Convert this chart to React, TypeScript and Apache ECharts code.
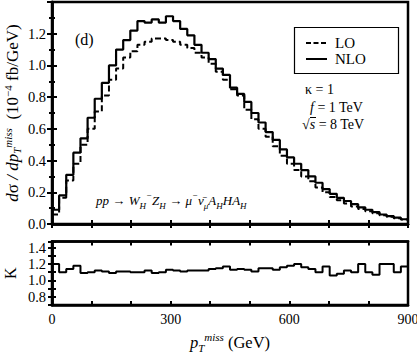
import React, { useEffect, useRef } from "react";
import * as echarts from "echarts";

// bin edges (GeV): 50 bins of 18 GeV from 0 to 900
const binEdges = [
  0, 18, 36, 54, 72, 90, 108, 126, 144, 162, 180, 198, 216, 234, 252, 270, 288, 306, 324, 342,
  360, 378, 396, 414, 432, 450, 468, 486, 504, 522, 540, 558, 576, 594, 612, 630, 648, 666, 684, 702,
  720, 738, 756, 774, 792, 810, 828, 846, 864, 882, 900,
];

const nloValues = [
  0.09, 0.18, 0.31, 0.45, 0.54, 0.67, 0.79, 0.89, 1.0, 1.1,
  1.16, 1.22, 1.28, 1.27, 1.29, 1.27, 1.31, 1.28, 1.23, 1.19,
  1.13, 1.08, 1.04, 0.98, 0.94, 0.86, 0.82, 0.77, 0.7, 0.64,
  0.58, 0.53, 0.47, 0.42, 0.38, 0.34, 0.3, 0.26, 0.22, 0.19,
  0.165, 0.145, 0.125, 0.105, 0.09, 0.075, 0.06, 0.05, 0.04, 0.03,
];

const loValues = [
  0.06, 0.165, 0.275, 0.38, 0.5, 0.6, 0.71, 0.81, 0.91, 0.98,
  1.05, 1.09, 1.13, 1.15, 1.17, 1.17, 1.16, 1.15, 1.13, 1.11,
  1.08, 1.05, 1.01, 0.96, 0.91, 0.85, 0.81, 0.72, 0.66, 0.6,
  0.55, 0.49, 0.43, 0.38, 0.34, 0.3, 0.27, 0.23, 0.2, 0.17,
  0.15, 0.13, 0.11, 0.095, 0.08, 0.068, 0.055, 0.045, 0.036, 0.028,
];

const kValues = [
  1.2, 1.1, 1.14, 1.18, 1.09, 1.1, 1.12, 1.11, 1.09, 1.11,
  1.11, 1.1, 1.1, 1.12, 1.09, 1.1, 1.13, 1.12, 1.11, 1.12,
  1.12, 1.12, 1.14, 1.15, 1.17, 1.13, 1.14, 1.13, 1.11, 1.15,
  1.15, 1.13, 1.16, 1.18, 1.2, 1.16, 1.14, 1.1, 1.17, 1.06,
  1.08, 1.12, 1.1, 1.2, 1.1, 1.07, 1.2, 1.2, 1.1, 1.17,
];

const xTickLabels = [0, 300, 600, 900];
const topYLabels = [0.0, 0.2, 0.4, 0.6, 0.8, 1.0, 1.2];
const bottomYLabels = [0.8, 1.0, 1.2, 1.4];
const legendNames = ["LO", "NLO"];

const FONT = "Liberation Serif";

function stepData(vals: number[]) {
  const d: [number, number][] = vals.map((v, i) => [binEdges[i], v]);
  d.push([binEdges[vals.length], vals[vals.length - 1]]);
  return d;
}

function makeRich(base: number, small: number, lh: number) {
  return {
    i: { fontFamily: FONT, fontSize: base, fontStyle: "italic", color: "#000", lineHeight: lh, verticalAlign: "middle" },
    r: { fontFamily: FONT, fontSize: base, color: "#000", lineHeight: lh, verticalAlign: "middle" },
    sup: { fontFamily: FONT, fontSize: small, fontStyle: "italic", color: "#000", lineHeight: small, verticalAlign: "top" },
    supr: { fontFamily: FONT, fontSize: small, color: "#000", lineHeight: small, verticalAlign: "top" },
    sub: { fontFamily: FONT, fontSize: small, fontStyle: "italic", color: "#000", lineHeight: small, verticalAlign: "bottom" },
  };
}

export default function App() {
  const ref = useRef<HTMLDivElement>(null);
  useEffect(() => {
    if (!ref.current) return;
    const chart = echarts.init(ref.current, undefined, { renderer: "svg" });
    const frame = { show: true, lineStyle: { color: "#000", width: 2.5 } };
    const tickX = { show: true, inside: true, length: 4, lineStyle: { color: "#000", width: 2 } };
    const common = { fontFamily: FONT, color: "#000" };
    const option: any = {
      animation: false,
      backgroundColor: "#fff",
      grid: [
        {
          left: 52, right: 9, top: 2, height: 222, show: true, borderColor: "#000", borderWidth: 2.5,
          backgroundColor: "transparent", containLabel: false, outerBoundsMode: "none",
        },
        {
          left: 52, right: 9, top: 241.5, height: 63.5, show: true, borderColor: "#000", borderWidth: 2.5,
          backgroundColor: "transparent", containLabel: false, outerBoundsMode: "none",
        },
      ],
      xAxis: [
        {
          type: "value", gridIndex: 0, min: 0, max: 900, interval: 100, position: "bottom",
          axisLine: frame, axisTick: tickX, axisLabel: { show: false }, splitLine: { show: false },
        },
        {
          type: "value", gridIndex: 0, min: 0, max: 900, interval: 100, position: "top",
          axisLine: frame, axisTick: tickX, axisLabel: { show: false }, splitLine: { show: false },
        },
        {
          type: "value", gridIndex: 1, min: 0, max: 900, interval: 100, position: "bottom",
          axisLine: frame, axisTick: tickX, splitLine: { show: false },
          axisLabel: {
            ...common, fontSize: 14, margin: 7,
            formatter: (v: number) => (xTickLabels.includes(v) ? String(v) : ""),
          },
          name: "{i|p}{sub|T}{sup|miss}{r| (GeV)}",
          nameLocation: "middle",
          nameGap: 26,
          nameTextStyle: { ...common, fontSize: 16, rich: makeRich(16.5, 11, 22) },
        },
        {
          type: "value", gridIndex: 1, min: 0, max: 900, interval: 100, position: "top",
          axisLine: frame, axisTick: tickX, axisLabel: { show: false }, splitLine: { show: false },
        },
      ],
      yAxis: [
        {
          type: "value", gridIndex: 0, min: 0, max: 1.4, interval: 0.2, position: "left",
          axisLine: frame, axisTick: { ...tickX, length: 5 },
          minorTick: { show: true, splitNumber: 2, length: 3, lineStyle: { color: "#000", width: 2 } },
          splitLine: { show: false },
          axisLabel: {
            ...common, fontSize: 14.5, margin: 6,
            formatter: (v: number) => {
              const m = topYLabels.find((t) => Math.abs(t - v) < 1e-6);
              return m === undefined ? "" : m.toFixed(1);
            },
          },
          name: "{i|d}{r|σ}{i| / dp}{sub|T}{sup|miss}{r|  (10}{supr|−4}{r| fb/GeV)}",
          nameLocation: "middle",
          nameRotate: 90,
          nameGap: 30,
          nameMoveOverlap: false,
          nameTextStyle: { ...common, fontSize: 17, rich: makeRich(17, 11, 20) },
        },
        {
          type: "value", gridIndex: 0, min: 0, max: 1.4, interval: 0.2, position: "right",
          axisLine: frame, axisTick: { ...tickX, length: 5 },
          minorTick: { show: true, splitNumber: 2, length: 3, lineStyle: { color: "#000", width: 2 } },
          splitLine: { show: false }, axisLabel: { show: false },
        },
        {
          type: "value", gridIndex: 1, min: 0.7, max: 1.475, interval: 0.1, position: "left",
          axisLine: frame, axisTick: { ...tickX, length: 4 }, splitLine: { show: false },
          axisLabel: {
            ...common, fontSize: 14.5, margin: 6,
            formatter: (v: number) => {
              const m = bottomYLabels.find((t) => Math.abs(t - v) < 1e-6);
              return m === undefined ? "" : m.toFixed(1);
            },
          },
          name: "K",
          nameLocation: "middle",
          nameRotate: 90,
          nameGap: 34,
          nameMoveOverlap: false,
          nameTextStyle: { ...common, fontSize: 16 },
        },
        {
          type: "value", gridIndex: 1, min: 0.7, max: 1.475, interval: 0.1, position: "right",
          axisLine: frame, axisTick: { ...tickX, length: 4 }, splitLine: { show: false },
          axisLabel: { show: false },
        },
      ],
      series: [
        {
          name: legendNames[0], type: "line", xAxisIndex: 0, yAxisIndex: 0, step: "end",
          data: stepData(loValues), symbol: "none",
          lineStyle: { color: "#000", width: 2, type: [6, 3] },
          itemStyle: { color: "#000" },
        },
        {
          name: legendNames[1], type: "line", xAxisIndex: 0, yAxisIndex: 0, step: "end",
          data: stepData(nloValues), symbol: "none",
          lineStyle: { color: "#000", width: 2.2, type: "solid" },
          itemStyle: { color: "#000" },
        },
        {
          name: "K", type: "line", xAxisIndex: 2, yAxisIndex: 2, step: "end",
          data: stepData(kValues), symbol: "none",
          lineStyle: { color: "#000", width: 2 },
          itemStyle: { color: "#000" },
        },
      ],
      graphic: [
        // legend box
        { type: "rect", shape: { x: 294.5, y: 27.5, width: 104, height: 46 }, style: { fill: "#fff", stroke: "#000", lineWidth: 1.2 } },
        { type: "line", shape: { x1: 306, y1: 43, x2: 327, y2: 43 }, style: { stroke: "#000", lineWidth: 2, lineDash: [5, 2.5] } },
        { type: "line", shape: { x1: 306, y1: 59, x2: 327, y2: 59 }, style: { stroke: "#000", lineWidth: 2 } },
        { type: "text", left: 335, top: 35, style: { text: legendNames[0], fontFamily: FONT, fontSize: 15, fill: "#000" } },
        { type: "text", left: 335, top: 51, style: { text: legendNames[1], fontFamily: FONT, fontSize: 15, fill: "#000" } },
        { type: "text", left: 75, top: 31, style: { text: "(d)", fontFamily: FONT, fontSize: 16, fill: "#000" } },
        { type: "text", left: 305, top: 82, style: { text: "κ = 1", fontFamily: FONT, fontSize: 14, fill: "#000" } },
        {
          type: "text", left: 310, top: 100,
          style: {
            text: "{i|f}{r| = 1 TeV}", fill: "#000",
            rich: { i: { fontFamily: FONT, fontSize: 14, fontStyle: "italic" }, r: { fontFamily: FONT, fontSize: 14 } },
          },
        },
        {
          type: "text", left: 302, top: 117,
          style: {
            text: "{r|√}{i|s}{r| = 8 TeV}", fill: "#000",
            rich: { i: { fontFamily: FONT, fontSize: 14, fontStyle: "italic" }, r: { fontFamily: FONT, fontSize: 14 } },
          },
        },
        { type: "line", shape: { x1: 310, y1: 117.5, x2: 316, y2: 117.5 }, style: { stroke: "#000", lineWidth: 1 } },
        {
          type: "text", left: 96, top: 190,
          style: {
            text: "{i|pp} {r|→} {i|W}{sub|H}{sup|−}{i|Z}{sub|H} {r|→} {i|μ}{sup|−}{i|ν̄}{sub|μ}{i|A}{sub|H}{i|HA}{sub|H}",
            fill: "#000",
            rich: makeRich(13, 9, 20),
          },
        },
      ],
    };
    chart.setOption(option);
    return () => chart.dispose();
  }, []);
  return <div ref={ref} style={{ position: "fixed", left: 0, top: 0, width: 417, height: 354 }} />;
}
